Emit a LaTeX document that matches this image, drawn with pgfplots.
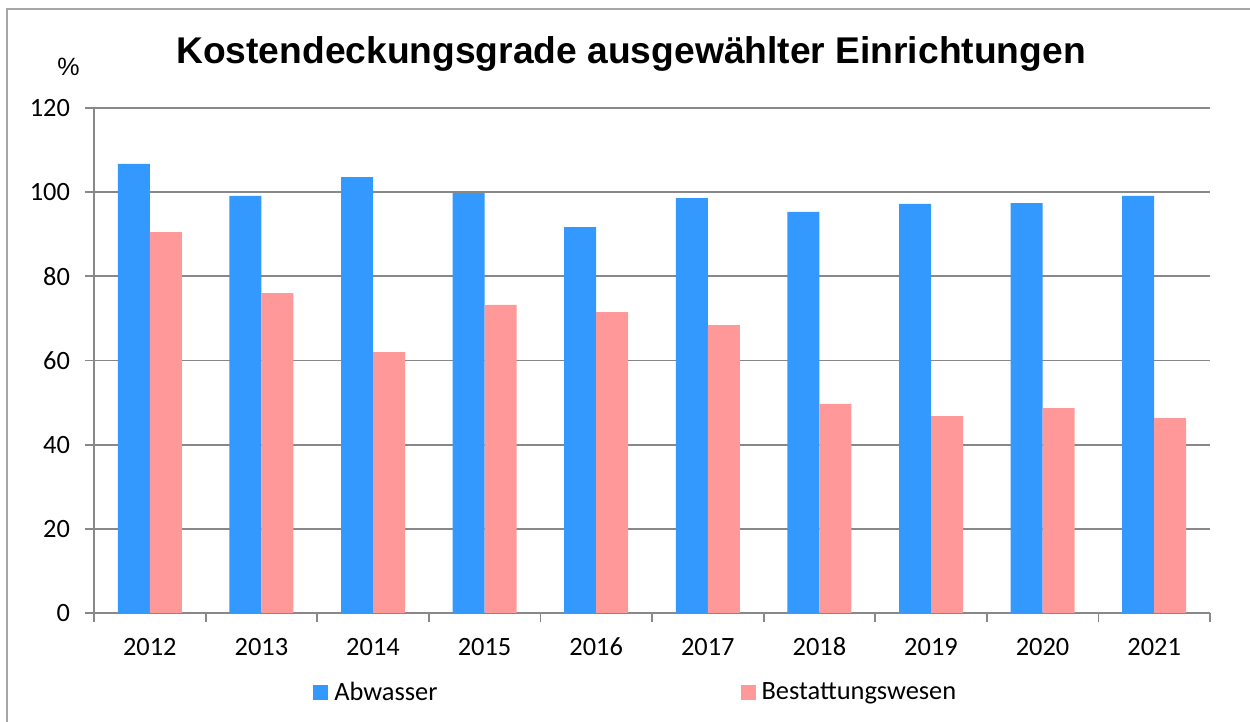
\documentclass[border=0pt]{standalone}
\usepackage{fontspec}
\setmainfont{Carlito}
\newfontfamily\arialfont{Liberation Sans}
\usepackage{pgfplots}
\pgfplotsset{compat=1.18}

\definecolor{abw}{HTML}{3399FF}
\definecolor{best}{HTML}{FF9999}
\definecolor{gridgray}{HTML}{888888}
\definecolor{framegray}{HTML}{A6A6A6}

\begin{document}
\begin{tikzpicture}
\useasboundingbox (0,0) rectangle (625pt,361pt);
% outer frame (only left and top edges are visible)
\draw[framegray, line width=0.9pt] (3.5pt,0pt) -- (3.5pt,356.5pt) -- (625pt,356.5pt);

\node[font=\arialfont\bfseries\fontsize{18.6}{20}\selectfont, anchor=base]
  at (315.5pt,329.3pt) {Kostendeckungsgrade ausgewählter Einrichtungen};
\node[font=\arialfont\fontsize{12.5}{14}\selectfont, anchor=center]
  at (34.3pt,327.5pt) {\%};

\begin{axis}[
    at={(47pt,54.5pt)}, anchor=south west,
    scale only axis,
    width=558pt, height=252.5pt,
    ybar=0pt,
    bar width=16pt,
    ymin=0, ymax=120,
    ytick={0,20,...,120},
    xmin=-0.5, xmax=9.5,
    xtick={0,...,9},
    xticklabels={2012,2013,2014,2015,2016,2017,2018,2019,2020,2021},
    minor xtick={-0.5,0.5,...,9.5},
    axis x line*=bottom,
    axis y line*=left,
    axis line style={gridgray, line width=0.9pt, -},
    tick align=outside,
    major x tick style={draw=none},
    minor x tick style={gridgray, line width=0.9pt},
    y tick style={gridgray, line width=0.9pt},
    major tick length=4.5pt,
    minor tick length=4.5pt,
    ymajorgrids,
    grid style={gridgray, line width=0.9pt},
    tick label style={font=\fontsize{13.2}{15}\selectfont},
    /pgf/number format/assume math mode=true,
    xticklabel style={yshift=-5pt, text height=8.4pt, text depth=0pt},
    yticklabel style={xshift=-4pt},
    legend style={at={(0.1962,-0.1584)}, anchor=west, draw=none, fill=none,
        inner sep=0pt, font=\fontsize{13.2}{15}\selectfont,
        nodes={inner sep=0pt}},
    legend columns=2,
    legend cell align=left,
    legend image code/.code={\fill[#1,draw=none] (0pt,-3.75pt) rectangle (7.5pt,3.75pt);},
    /tikz/every odd column/.append style={column sep=3pt},
    /tikz/every even column/.append style={column sep=151.5pt},
]
\addplot[fill=abw, draw=none] coordinates {
    (0,106.7) (1,99.1) (2,103.6) (3,99.8) (4,91.7)
    (5,98.6) (6,95.3) (7,97.2) (8,97.4) (9,99.1)
};
\addplot[fill=best, draw=none] coordinates {
    (0,90.5) (1,76.0) (2,62.0) (3,73.2) (4,71.5)
    (5,68.4) (6,49.7) (7,46.8) (8,48.7) (9,46.3)
};
\legend{Abwasser, Bestattungswesen}
\end{axis}
\end{tikzpicture}
\end{document}
